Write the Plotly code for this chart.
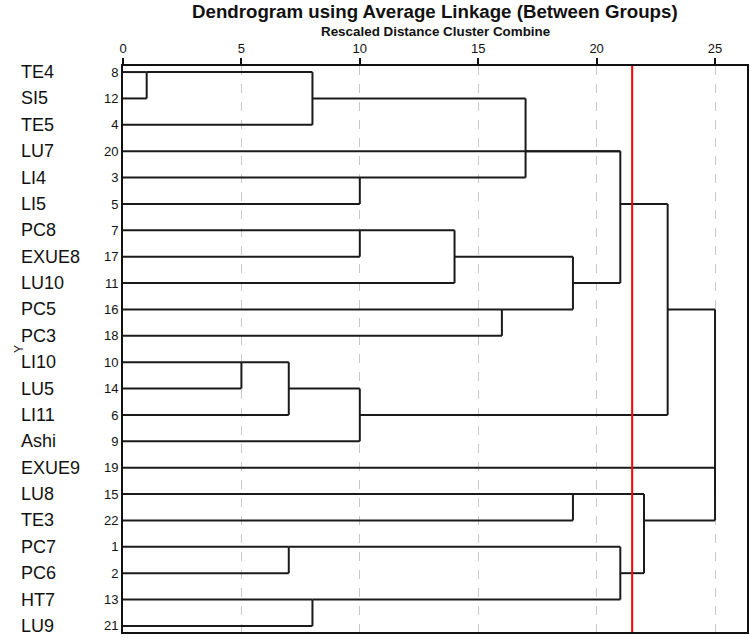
import plotly.graph_objects as go

# ---- data ----
leaf_names = ["TE4", "SI5", "TE5", "LU7", "LI4", "LI5", "PC8", "EXUE8", "LU10", "PC5", "PC3",
              "LI10", "LU5", "LI11", "Ashi", "EXUE9", "LU8", "TE3", "PC7", "PC6", "HT7", "LU9"]
case_ids = [8, 12, 4, 20, 3, 5, 7, 17, 11, 16, 18, 10, 14, 6, 9, 19, 15, 22, 1, 2, 13, 21]

merge_names = ["A", "B", "C", "D", "E", "F", "G", "H", "I", "J", "K", "L", "M", "N",
               "O", "P", "Q", "R", "S", "U", "V"]
merge_left = ["TE4", "A", "LI4", "B", "PC8", "E", "PC5", "F", "D", "I", "LI10", "K", "L", "J",
              "LU8", "PC7", "HT7", "P", "O", "EXUE9", "N"]
merge_right = ["SI5", "TE5", "LI5", "C", "EXUE8", "LU10", "PC3", "G", "LU7", "H", "LU5", "LI11", "Ashi", "M",
               "TE3", "PC6", "LU9", "Q", "R", "S", "U"]
merge_dist = [1, 8, 10, 17, 10, 14, 16, 19, 21, 21, 5, 7, 10, 23, 19, 7, 8, 21, 22, 25, 25]
merge_row = [0, 1, 4, 3, 6, 7, 9, 8, 3, 5, 11, 12, 13, 9, 16, 18, 20, 19, 17, 16, 12]

x_ticks = [0, 5, 10, 15, 20, 25]
cut_distance = 21.5

# ---- build segments ----
row_of = {n: i for i, n in enumerate(leaf_names)}
start_of = {n: 0 for n in leaf_names}
for n, r, d in zip(merge_names, merge_row, merge_dist):
    row_of[n] = r
    start_of[n] = d

xs, ys = [], []
for a, b, d in zip(merge_left, merge_right, merge_dist):
    for c in (a, b):
        xs += [start_of[c], d, None]
        ys += [row_of[c], row_of[c], None]
    xs += [d, d, None]
    ys += [row_of[a], row_of[b], None]

fig = go.Figure()
fig.add_trace(go.Scatter(x=xs, y=ys, mode="lines",
                         line=dict(color="#1a1a1a", width=2), hoverinfo="skip",
                         showlegend=False))
fig.add_trace(go.Scatter(x=[cut_distance, cut_distance], y=[-0.23, 21.23], mode="lines",
                         line=dict(color="#ff0000", width=2), hoverinfo="skip",
                         showlegend=False))

W, H = 750, 639
ml, mr, mt, mb = 123, 3, 66, 7
pw = W - ml - mr
ph = H - mt - mb

for i, nm in enumerate(leaf_names):
    fig.add_annotation(x=(19 - ml) / pw, xref="paper", y=i, yref="y", text=nm,
                       showarrow=False, xanchor="left", yanchor="middle",
                       font=dict(size=18, color="#111"))

fig.add_annotation(x=(10 - ml) / pw, xref="paper", y=0.5, yref="paper", text="Y",
                   textangle=-90, showarrow=False, font=dict(size=12, color="#111"))
fig.add_annotation(x=0.5, xref="paper", y=1 + (mt - 31) / ph, yref="paper",
                   text="<b>Rescaled Distance Cluster Combine</b>", showarrow=False,
                   yanchor="middle", font=dict(size=13.4, color="#111"))
fig.add_annotation(x=0.5, xref="paper", y=1 + (mt - 12) / ph, yref="paper",
                   text="<b>Dendrogram using Average Linkage (Between Groups)</b>",
                   showarrow=False, yanchor="middle", font=dict(size=18.7, color="#111"))

fig.update_layout(
    width=W, height=H,
    margin=dict(l=ml, r=mr, t=mt, b=mb),
    paper_bgcolor="white", plot_bgcolor="white",
    font=dict(family="Liberation Sans, Arial, sans-serif", color="#111"),
    xaxis=dict(range=[0, 26.35], side="top", tickvals=x_ticks, ticks="outside",
               ticklen=6, tickcolor="#111", tickwidth=1.5, automargin=False,
               showgrid=True, gridcolor="#c8c8c8", griddash="dash", gridwidth=1,
               zeroline=False, showline=True, linecolor="#111", linewidth=1.5, mirror=True,
               tickfont=dict(size=13), fixedrange=True),
    yaxis=dict(range=[21.23, -0.23], tickvals=list(range(len(case_ids))), automargin=False,
               ticktext=[str(c) for c in case_ids], ticks="",
               showgrid=False, zeroline=False, showline=True,
               linecolor="#111", linewidth=2, mirror=True,
               tickfont=dict(size=13), fixedrange=True),
)

fig.write_html("out.html", config={"displayModeBar": False},
               post_script="document.body.style.margin='0';document.body.style.padding='0';")
